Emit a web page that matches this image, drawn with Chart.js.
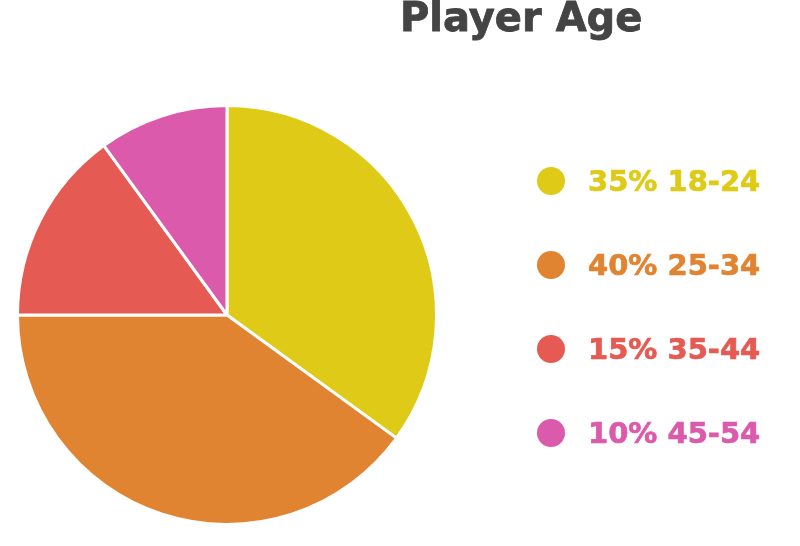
<!DOCTYPE html>
<html>
<head>
<meta charset="utf-8">
<script src="https://cdn.jsdelivr.net/npm/chart.js@4"></script>
<style>
  html, body { margin:0; padding:0; background:#fff; }
  #wrap { position:relative; width:800px; height:546px; overflow:hidden; }
  #c { position:absolute; left:0; top:0; }
  #title { position:absolute; left:400px; top:-6px; font-family:"DejaVu Sans", sans-serif; font-weight:bold; font-size:40px; color:#444444; white-space:nowrap; -webkit-text-stroke:0.8px #444444; }
  #legend { position:absolute; left:537px; top:0; width:263px; font-family:"DejaVu Sans", sans-serif; font-weight:bold; font-size:29px; }
  .item { position:absolute; left:0; height:40px; display:flex; align-items:center; white-space:nowrap; }
  .dot { width:28px; height:28px; border-radius:50%; margin-right:23px; flex:none; }
</style>
</head>
<body>
<div id="wrap">
  <canvas id="c" width="800" height="546"></canvas>
  <div id="title"></div>
  <div id="legend"></div>
</div>
<script>
const titleText = "Player Age";
const categories = ["18-24", "25-34", "35-44", "45-54"];
const values = [35, 40, 15, 10];
const colors = ["#DFCB17", "#E08431", "#E55A52", "#DC5AAB"];

document.getElementById('title').textContent = titleText;

const legend = document.getElementById('legend');
categories.forEach((cat, i) => {
  const item = document.createElement('div');
  item.className = 'item';
  item.style.top = (161 + i * 84) + 'px';
  item.style.color = colors[i];
  const dot = document.createElement('span');
  dot.className = 'dot';
  dot.style.background = colors[i];
  const txt = document.createElement('span');
  txt.textContent = values[i] + '% ' + cat;
  txt.style.webkitTextStroke = '0.7px ' + colors[i];
  item.appendChild(dot);
  item.appendChild(txt);
  legend.appendChild(item);
});

new Chart(document.getElementById('c'), {
  type: 'pie',
  data: {
    labels: categories,
    datasets: [{
      data: values,
      backgroundColor: colors,
      borderColor: '#ffffff',
      borderWidth: 3
    }]
  },
  options: {
    responsive: false,
    animation: false,
    devicePixelRatio: 1,
    layout: { padding: { top: 104, bottom: 20, left: 16, right: 362 } },
    plugins: {
      legend: { display: false },
      title: { display: false },
      tooltip: { enabled: false }
    }
  }
});
</script>
</body>
</html>
